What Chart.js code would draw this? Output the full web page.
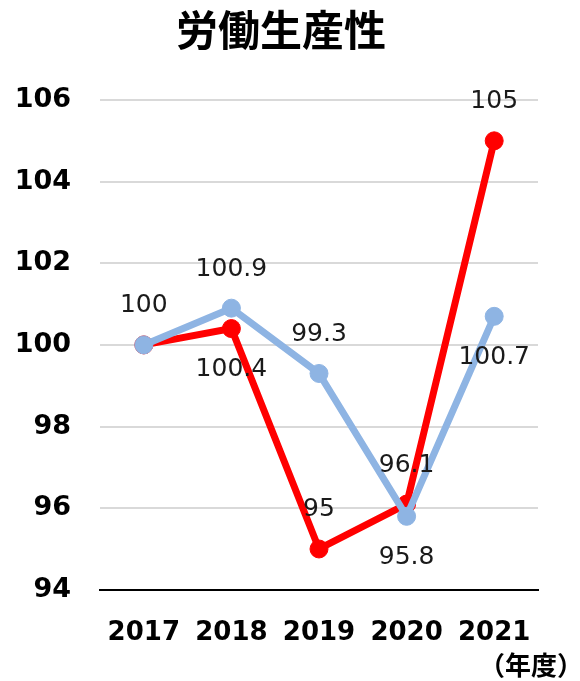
<!DOCTYPE html>
<html>
<head>
<meta charset="utf-8">
<script src="https://cdn.jsdelivr.net/npm/chart.js@4"></script>
<style>
  html, body { margin: 0; padding: 0; background: #fff; }
  #wrap { width: 580px; height: 681px; }
</style>
</head>
<body>
<div id="wrap"><canvas id="chart"></canvas></div>
<script>
// data
const years = ['2017', '2018', '2019', '2020', '2021'];
const redValues = [100, 100.4, 95, 96.1, 105];
const blueValues = [100, 100.9, 99.3, 95.8, 100.7];
const yTicks = [94, 96, 98, 100, 102, 104, 106];
const chartTitle = '労働生産性';
const unitLabel = '（年度）';

// where each value label sits relative to its point (null = not shown)
const redLabelPos = [null, 'below', 'above', 'above', 'above'];
const blueLabelPos = ['above', 'above', 'above', 'below', 'below'];

const valueLabels = {
  id: 'valueLabels',
  afterDatasetsDraw(chart) {
    const ctx = chart.ctx;
    ctx.save();
    ctx.font = '25px "DejaVu Sans"';
    ctx.fillStyle = '#1a1a1a';
    ctx.textAlign = 'center';
    ctx.textBaseline = 'middle';
    chart.data.datasets.forEach((ds, i) => {
      const meta = chart.getDatasetMeta(i);
      meta.data.forEach((pt, j) => {
        const pos = ds.labelPos[j];
        if (!pos) return;
        const dy = pos === 'above' ? -39 : 41;
        ctx.fillText(String(ds.data[j]), pt.x, pt.y + dy);
      });
    });
    ctx.restore();
  }
};

const extraText = {
  id: 'extraText',
  afterDraw(chart) {
    const ctx = chart.ctx;
    ctx.save();
    ctx.fillStyle = '#000';
    ctx.textBaseline = 'middle';
    ctx.textAlign = 'center';
    ctx.font = 'bold 42px "Noto Sans CJK JP"';
    ctx.fillText(chartTitle, 281, 30);
    ctx.textAlign = 'right';
    ctx.font = 'bold 26px "Noto Sans CJK JP"';
    ctx.fillText(unitLabel, 583, 665);
    ctx.restore();
  }
};

new Chart(document.getElementById('chart'), {
  type: 'line',
  data: {
    labels: years,
    datasets: [
      {
        label: 'red',
        data: redValues,
        labelPos: redLabelPos,
        borderColor: '#ff0000',
        backgroundColor: '#ff0000',
        borderWidth: 7,
        pointRadius: 9,
        pointBorderWidth: 1,
        pointBorderColor: '#ff0000',
        tension: 0,
        order: 2
      },
      {
        label: 'blue',
        data: blueValues,
        labelPos: blueLabelPos,
        borderColor: '#8eb4e3',
        backgroundColor: '#8eb4e3',
        borderWidth: 7,
        pointRadius: 9,
        pointBorderWidth: 1,
        pointBorderColor: '#8eb4e3',
        tension: 0,
        order: 1
      }
    ]
  },
  options: {
    responsive: true,
    maintainAspectRatio: false,
    animation: false,
    layout: { padding: { left: 14, right: 42, top: 100, bottom: 4 } },
    plugins: {
      legend: { display: false },
      tooltip: { enabled: false },
      title: { display: false }
    },
    scales: {
      x: {
        offset: true,
        grid: { display: false, drawTicks: false },
        border: { display: true, color: '#000', width: 2 },
        ticks: {
          padding: 28,
          color: '#000',
          font: { family: 'DejaVu Sans', size: 26, weight: 'bold' }
        }
      },
      y: {
        min: yTicks[0],
        max: yTicks[yTicks.length - 1],
        afterBuildTicks(axis) {
          axis.ticks = yTicks.map(v => ({ value: v }));
        },
        afterFit(axis) {
          axis.width = 86;
        },
        grid: { color: '#d9d9d9', lineWidth: 2, drawTicks: false },
        border: { display: false },
        ticks: {
          padding: 29,
          color: '#000',
          font: { family: 'DejaVu Sans', size: 27, weight: 'bold' }
        }
      }
    }
  },
  plugins: [valueLabels, extraText]
});
</script>
</body>
</html>
